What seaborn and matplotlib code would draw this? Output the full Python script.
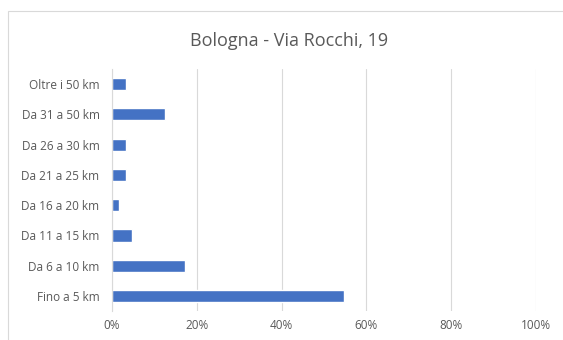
import matplotlib
matplotlib.use("Agg")
import matplotlib.pyplot as plt
import seaborn as sns
import pandas as pd
from matplotlib.ticker import PercentFormatter

categories = ["Oltre i 50 km", "Da 31 a 50 km", "Da 26 a 30 km", "Da 21 a 25 km",
              "Da 16 a 20 km", "Da 11 a 15 km", "Da 6 a 10 km", "Fino a 5 km"]
values = [3.3, 12.5, 3.3, 3.3, 1.7, 4.8, 17.2, 54.7]
xticks = [0, 20, 40, 60, 80, 100]

df = pd.DataFrame({"cat": categories, "val": values})

sns.set_theme(style="white")
plt.rcParams["font.family"] = ["Open Sans", "DejaVu Sans"]

fig = plt.figure(figsize=(5.63, 3.4), dpi=100)
ax = fig.add_axes([0.199, 0.085, 0.753, 0.712])
sns.barplot(data=df, x="val", y="cat", color="#4472C4", saturation=1, width=0.4,
            ax=ax, orient="h")

ax.set_xlim(0, 100)
ax.set_xticks(xticks)
ax.xaxis.set_major_formatter(PercentFormatter(decimals=0))
ax.grid(axis="x", color="#d9d9d9", linewidth=0.8)
ax.set_axisbelow(True)
for s in ["top", "right", "bottom"]:
    ax.spines[s].set_visible(False)
ax.spines["left"].set_color("#d9d9d9")
ax.spines["left"].set_linewidth(0.8)
ax.set_xlabel("")
ax.set_ylabel("")
ax.tick_params(axis="y", length=0, labelsize=8.5, labelcolor="#595959", pad=9)
ax.tick_params(axis="x", length=0, labelsize=8.5, labelcolor="#595959", pad=6)
fig.text(0.514, 0.88, "Bologna - Via Rocchi, 19", ha="center", va="center",
         fontsize=13, color="#595959")

# light frame around the chart
fig.patches.append(plt.Rectangle((0.014, -0.05), 1.1, 1.018, transform=fig.transFigure,
                                 fill=False, edgecolor="#d9d9d9", linewidth=0.8))
fig.savefig("out.png", dpi=100)
